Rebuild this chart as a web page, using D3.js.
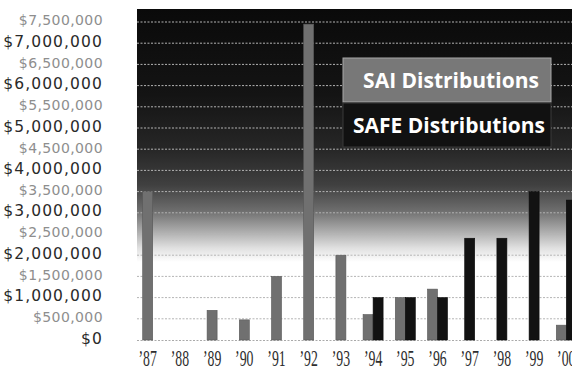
<!DOCTYPE html>
<html>
<head>
<meta charset="utf-8">
<script src="https://cdn.jsdelivr.net/npm/d3@7"></script>
<style>
  html, body { margin: 0; padding: 0; background: #fff; }
  svg { display: block; }
</style>
</head>
<body>
<svg id="chart" width="572" height="371"></svg>
<script>
// ---- data ----
const years = ["’87","’88","’89","’90","’91","’92","’93","’94","’95","’96","’97","’98","’99","’00"];
const saiValues  = [3500000, 0, 700000, 475000, 1500000, 7450000, 2000000, 600000, 1000000, 1200000, 0, 0, 0, 350000];
const safeValues = [0, 0, 0, 0, 0, 0, 0, 1000000, 1000000, 1000000, 2400000, 2400000, 3500000, 3300000];
const seriesNames = ["SAI Distributions", "SAFE Distributions"];
const yTicks = [0,500000,1000000,1500000,2000000,2500000,3000000,3500000,4000000,4500000,5000000,5500000,6000000,6500000,7000000,7500000];

// ---- layout ----
const svg = d3.select("#chart");
const plotLeft = 137, plotTop = 9, plotBottom = 340, plotRight = 600;
const step = 32.2, firstCenter = 147.7;

const x = d3.scaleBand().domain(years)
  .range([firstCenter - step/2, firstCenter - step/2 + step*years.length]).padding(0);
const y = d3.scaleLinear().domain([0, 7500000]).range([340, 22]);

// background gradient
const defs = svg.append("defs");
const grad = defs.append("linearGradient").attr("id","bg")
  .attr("gradientUnits","userSpaceOnUse").attr("x1",0).attr("x2",0).attr("y1",plotTop).attr("y2",plotBottom);
[[plotTop,"#0a0a0a"],[95,"#141414"],[150,"#272727"],[185,"#404040"],[210,"#6c6c6c"],[230,"#a8a8a8"],[248,"#e0e0e0"],[262,"#ffffff"],[plotBottom,"#ffffff"]]
  .forEach(([p,c]) => grad.append("stop").attr("offset", (p-plotTop)/(plotBottom-plotTop)).attr("stop-color", c));

svg.append("rect").attr("x",plotLeft).attr("y",plotTop)
  .attr("width",plotRight-plotLeft).attr("height",plotBottom-plotTop)
  .attr("fill","url(#bg)");

// gridlines
svg.append("g").selectAll("line").data(yTicks.filter(d=>d>0)).join("line")
  .attr("x1",plotLeft).attr("x2",plotRight)
  .attr("y1",d=>y(d)).attr("y2",d=>y(d))
  .attr("stroke","#b4b4b4").attr("stroke-width",1).attr("stroke-dasharray","2,1.5");
svg.append("line").attr("x1",plotLeft).attr("x2",plotRight).attr("y1",y(0)+0.5).attr("y2",y(0)+0.5)
  .attr("stroke","#aaa").attr("stroke-dasharray","2,1.5");

// bars
const bw = 10;
const bars = [];
years.forEach((yr,i) => {
  const c = x(yr) + x.bandwidth()/2;
  const both = saiValues[i] > 0 && safeValues[i] > 0;
  if (saiValues[i] > 0) bars.push({x: both ? c - bw : c - bw/2, v: saiValues[i], s: 0});
  if (safeValues[i] > 0) bars.push({x: both ? c : c - bw/2, v: safeValues[i], s: 1});
});
svg.append("g").selectAll("rect").data(bars).join("rect")
  .attr("x",d=>d.x).attr("width",bw)
  .attr("y",d=>y(d.v)).attr("height",d=>y(0)-y(d.v))
  .attr("fill",d=>d.s===0 ? "#707070" : "#121212")
  .attr("stroke",d=>d.s===0 ? "#585858" : "#0a0a0a").attr("stroke-width",0.6);

// y axis
const yAxis = d3.axisLeft(y).tickValues(yTicks).tickSize(0).tickPadding(34)
  .tickFormat(d => "$" + d3.format(",")(d));
const gy = svg.append("g").attr("transform",`translate(${plotLeft},0)`).call(yAxis);
gy.select(".domain").remove();
gy.selectAll("text")
  .attr("font-family","'DejaVu Sans', sans-serif")
  .attr("dy","0.2em")
  .attr("font-size", d => d % 1000000 === 0 ? 15.5 : 14)
  .attr("letter-spacing", d => d % 1000000 === 0 ? 1.1 : 0.4)
  .attr("fill", d => d % 1000000 === 0 ? "#2a2a2a" : "#8e8e8e");

// x axis
const xAxis = d3.axisBottom(x).tickSize(0).tickPadding(0);
const gx = svg.append("g").attr("transform",`translate(0,${plotBottom})`).call(xAxis);
gx.select(".domain").remove();
gx.selectAll("text")
  .attr("font-family","'Liberation Serif', serif")
  .attr("font-size",23).attr("fill","#2e2e2e")
  .attr("y",26).attr("dy",0)
  .attr("transform","scale(0.6,1)");

// legend
const legend = svg.append("g");
const lx = 343, lw = 208, lh = 44, ly = [58, 103];
const lfill = ["#787878", "#111111"], lstroke = ["#a8a8a8", "#3a3a3a"];
seriesNames.forEach((name,i) => {
  legend.append("rect").attr("x",lx).attr("y",ly[i]).attr("width",lw).attr("height",lh)
    .attr("fill",lfill[i]).attr("stroke",lstroke[i]).attr("stroke-width",1);
  legend.append("text").attr("x",lx+lw/2 + (i===0?4:2)).attr("y",ly[i]+lh/2+7.5)
    .attr("text-anchor","middle")
    .attr("font-family","'Open Sans', sans-serif").attr("font-weight","bold")
    .attr("font-size",21).attr("fill","#fff").text(name);
});
</script>
</body>
</html>
